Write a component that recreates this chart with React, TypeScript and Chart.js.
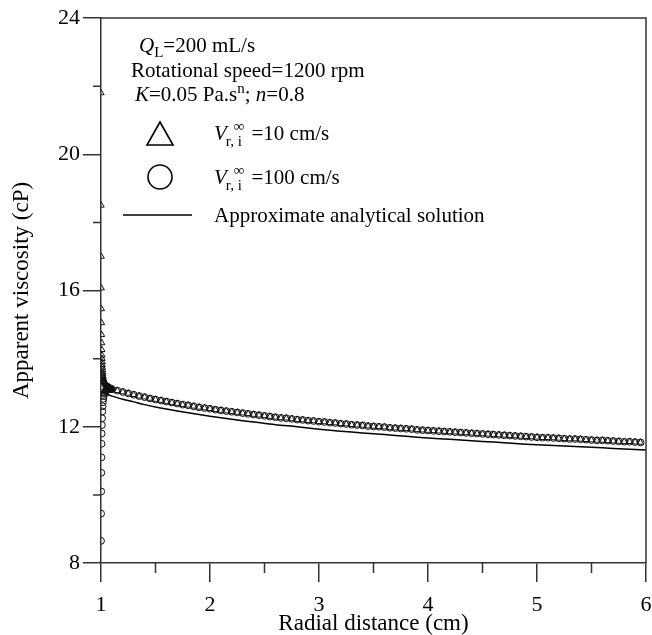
import React, { useEffect, useRef } from "react";
import { Chart, registerables } from "chart.js";
Chart.register(...registerables);

const FONT = "'Liberation Serif', 'Times New Roman', serif";
const AXIS = "#333";

// Along-the-curve points shared by both simulated series
const curveR = [1.10,1.15,1.20,1.25,1.30,1.35,1.40,1.45,1.50,1.55,1.60,1.65,1.70,1.75,1.80,1.85,1.90,1.95,2.00,2.05,2.10,2.15,2.20,2.25,2.30,2.35,2.40,2.45,2.50,2.55,2.60,2.65,2.70,2.75,2.80,2.85,2.90,2.95,3.00,3.05,3.10,3.15,3.20,3.25,3.30,3.35,3.40,3.45,3.50,3.55,3.60,3.65,3.70,3.75,3.80,3.85,3.90,3.95,4.00,4.05,4.10,4.15,4.20,4.25,4.30,4.35,4.40,4.45,4.50,4.55,4.60,4.65,4.70,4.75,4.80,4.85,4.90,4.95,5.00,5.05,5.10,5.15,5.20,5.25,5.30,5.35,5.40,5.45,5.50,5.55,5.60,5.65,5.70,5.75,5.80,5.85,5.90,5.95];
const curveV = [13.10,13.06,13.02,12.98,12.94,12.90,12.87,12.83,12.80,12.77,12.74,12.71,12.68,12.65,12.63,12.60,12.57,12.55,12.53,12.50,12.48,12.46,12.44,12.42,12.40,12.38,12.36,12.34,12.32,12.30,12.28,12.26,12.25,12.23,12.21,12.20,12.18,12.17,12.15,12.14,12.12,12.11,12.09,12.08,12.06,12.05,12.04,12.02,12.01,12.00,11.99,11.97,11.96,11.95,11.94,11.93,11.91,11.90,11.89,11.88,11.87,11.86,11.85,11.84,11.83,11.82,11.81,11.80,11.79,11.78,11.77,11.76,11.75,11.74,11.73,11.72,11.71,11.70,11.69,11.68,11.68,11.67,11.66,11.65,11.64,11.64,11.63,11.62,11.61,11.60,11.60,11.59,11.58,11.57,11.56,11.56,11.55,11.54];

// Near-wall points, V = 10 cm/s (triangles)
const wallR10 = [1.000,1.001,1.002,1.003,1.004,1.005,1.006,1.007,1.008,1.009,1.010,1.011,1.012,1.013,1.014,1.015,1.016,1.018,1.020,1.022,1.025,1.028,1.031,1.034,1.037,1.040,1.044,1.048,1.052,1.056,1.060,1.065,1.070,1.075,1.080,1.085,1.090,1.095];
const wallV10 = [21.8,18.5,17.0,16.07,15.46,15.05,14.70,14.46,14.26,14.10,14.0,13.9,13.82,13.74,13.67,13.6,13.55,13.5,13.45,13.4,13.37,13.34,13.32,13.30,13.28,13.26,13.24,13.22,13.21,13.20,13.19,13.18,13.17,13.16,13.15,13.14,13.13,13.12];

// Near-wall points, V = 100 cm/s (circles)
const wallR100 = [1.000,1.001,1.002,1.003,1.004,1.005,1.006,1.008,1.010,1.012,1.015,1.018,1.021,1.025,1.030,1.035,1.040,1.045,1.050,1.055,1.060,1.065,1.070,1.075,1.080,1.085,1.090,1.095];
const wallV100 = [8.65,9.45,10.1,10.65,11.1,11.5,11.8,12.05,12.25,12.45,12.6,12.72,12.82,12.9,12.96,13.0,13.04,13.06,13.08,13.09,13.1,13.11,13.11,13.11,13.11,13.11,13.11,13.11];

// Approximate analytical solution
const lineR = [1.02,1.05,1.1,1.2,1.3,1.4,1.5,1.6,1.8,2.0,2.2,2.4,2.6,2.8,3.0,3.2,3.4,3.6,3.8,4.0,4.2,4.4,4.6,4.8,5.0,5.2,5.4,5.6,5.8,6.0];
const lineV = [13.02,12.96,12.90,12.81,12.73,12.65,12.58,12.52,12.41,12.31,12.22,12.14,12.06,12.0,11.93,11.87,11.82,11.77,11.72,11.67,11.63,11.59,11.55,11.51,11.47,11.44,11.41,11.38,11.35,11.32];

const xMinor = [1.5,2.5,3.5,4.5,5.5];
const yMinor = [10,14,18,22];

const toPts = (xs: number[], ys: number[]) => xs.map((x, i) => ({ x, y: ys[i] }));

type Seg = { t: string; italic?: boolean; sub?: boolean; sup?: boolean };

const TXT = 21;
const SMALL = 15;

function drawRich(ctx: CanvasRenderingContext2D, x: number, y: number, segs: Seg[]) {
  let cx = x;
  for (const s of segs) {
    const small = s.sub || s.sup;
    ctx.font = `${s.italic ? "italic " : ""}${small ? SMALL : TXT}px ${FONT}`;
    const dy = s.sub ? 5 : s.sup ? -8 : 0;
    ctx.fillText(s.t, cx, y + dy);
    cx += ctx.measureText(s.t).width;
  }
  return cx;
}

function drawV(ctx: CanvasRenderingContext2D, x: number, y: number, rest: string) {
  ctx.font = `italic ${TXT}px ${FONT}`;
  ctx.fillText("V", x, y);
  let cx = x + ctx.measureText("V").width - 1;
  ctx.font = `${SMALL}px ${FONT}`;
  ctx.fillText("r, i", cx, y + 6);
  const w1 = ctx.measureText("r, i").width;
  ctx.fillText("\u221E", cx + 8, y - 9);
  const w2 = ctx.measureText("\u221E").width + 8;
  cx += Math.max(w1, w2) + 7;
  ctx.font = `${TXT}px ${FONT}`;
  ctx.fillText(rest, cx, y);
}

const decor = {
  id: "decor",
  afterDraw(chart: any) {
    const ctx: CanvasRenderingContext2D = chart.ctx;
    const { left, right, top, bottom } = chart.chartArea;
    const xs = chart.scales.x;
    const ys = chart.scales.y;
    ctx.save();
    ctx.strokeStyle = AXIS;
    ctx.lineWidth = 1.5;
    ctx.beginPath();
    ctx.moveTo(left, top);
    ctx.lineTo(right, top);
    ctx.lineTo(right, bottom);
    for (const v of yMinor) {
      const py = ys.getPixelForValue(v);
      ctx.moveTo(left - 8, py);
      ctx.lineTo(left, py);
    }
    for (const v of xMinor) {
      const px = xs.getPixelForValue(v);
      ctx.moveTo(px, bottom);
      ctx.lineTo(px, bottom + 10);
    }
    ctx.stroke();

    // annotation / legend
    ctx.fillStyle = "#000";
    ctx.textBaseline = "alphabetic";
    ctx.textAlign = "left";
    drawRich(ctx, 139, 52, [{ t: "Q", italic: true }, { t: "L", sub: true }, { t: "=200 mL/s" }]);
    drawRich(ctx, 131, 77, [{ t: "Rotational speed=1200 rpm" }]);
    drawRich(ctx, 135, 101, [{ t: "K", italic: true }, { t: "=0.05 Pa.s" }, { t: "n", sup: true }, { t: "; " }, { t: "n", italic: true }, { t: "=0.8" }]);

    ctx.strokeStyle = "#000";
    ctx.lineWidth = 1.6;
    // triangle symbol
    ctx.beginPath();
    ctx.moveTo(160, 122);
    ctx.lineTo(173, 145);
    ctx.lineTo(147, 145);
    ctx.closePath();
    ctx.stroke();
    // circle symbol
    ctx.beginPath();
    ctx.arc(160, 177, 12, 0, Math.PI * 2);
    ctx.stroke();
    // line symbol
    ctx.beginPath();
    ctx.moveTo(123, 215);
    ctx.lineTo(192, 215);
    ctx.stroke();

    drawV(ctx, 214, 140, "=10 cm/s");
    drawV(ctx, 214, 184, "=100 cm/s");
    ctx.font = `${TXT}px ${FONT}`;
    ctx.fillText("Approximate analytical solution", 214, 222);
    ctx.restore();
  },
};

export default function App() {
  const ref = useRef<HTMLCanvasElement>(null);
  useEffect(() => {
    const canvas = ref.current!;
    const tickFont = { family: FONT, size: 22 };
    const chart = new Chart(canvas, {
      type: "scatter",
      data: {
        datasets: [
          {
            label: "Vr,i=10 cm/s",
            data: [...toPts(wallR10, wallV10), ...toPts(curveR, curveV)],
            pointStyle: "triangle",
            pointRadius: 3.6,
            borderColor: "#111",
            borderWidth: 1,
            backgroundColor: "rgba(0,0,0,0)",
            showLine: false,
          },
          {
            label: "Vr,i=100 cm/s",
            data: [...toPts(wallR100, wallV100), ...toPts(curveR, curveV)],
            pointStyle: "circle",
            pointRadius: 3.4,
            borderColor: "#111",
            borderWidth: 1,
            backgroundColor: "rgba(0,0,0,0)",
            showLine: false,
          },
          {
            label: "Approximate analytical solution",
            data: toPts(lineR, lineV),
            showLine: true,
            pointRadius: 0,
            borderColor: "#000",
            borderWidth: 1.5,
            tension: 0.3,
          },
        ],
      },
      options: {
        animation: false,
        responsive: false,
        devicePixelRatio: 1,
        layout: { padding: { left: 0, top: 18, right: 6, bottom: 0 } },
        plugins: { legend: { display: false }, tooltip: { enabled: false } },
        scales: {
          x: {
            type: "linear",
            min: 1,
            max: 6,
            ticks: { stepSize: 1, font: tickFont, color: "#000", padding: 10 },
            grid: { drawOnChartArea: false, drawTicks: true, tickLength: 19, color: AXIS, lineWidth: 1.5 },
            border: { display: true, color: AXIS, width: 1.5 },
            title: { display: true, text: "Radial distance (cm)", font: { family: FONT, size: 23, lineHeight: 1 }, color: "#000", padding: 0 },
            afterFit: (s: any) => { s.height = 72; s.paddingLeft = 0; s.paddingRight = 0; },
          },
          y: {
            type: "linear",
            min: 8,
            max: 24,
            ticks: { stepSize: 4, font: tickFont, color: "#000", padding: 3 },
            grid: { drawOnChartArea: false, drawTicks: true, tickLength: 18, color: AXIS, lineWidth: 1.5 },
            border: { display: true, color: AXIS, width: 1.5 },
            title: { display: true, text: "Apparent viscosity (cP)", font: { family: FONT, size: 23, lineHeight: 1.2 }, color: "#000", padding: { top: 8, bottom: 0 } },
            afterFit: (s: any) => { s.width = 101; s.paddingTop = 0; s.paddingBottom = 0; },
          },
        },
      },
      plugins: [decor],
    } as any);
    return () => chart.destroy();
  }, []);
  return (
    <div style={{ position: "absolute", left: 0, top: 0, width: 652, height: 635, background: "#fff" }}>
      <canvas ref={ref} width={652} height={635} style={{ display: "block", width: 652, height: 635 }} />
    </div>
  );
}
